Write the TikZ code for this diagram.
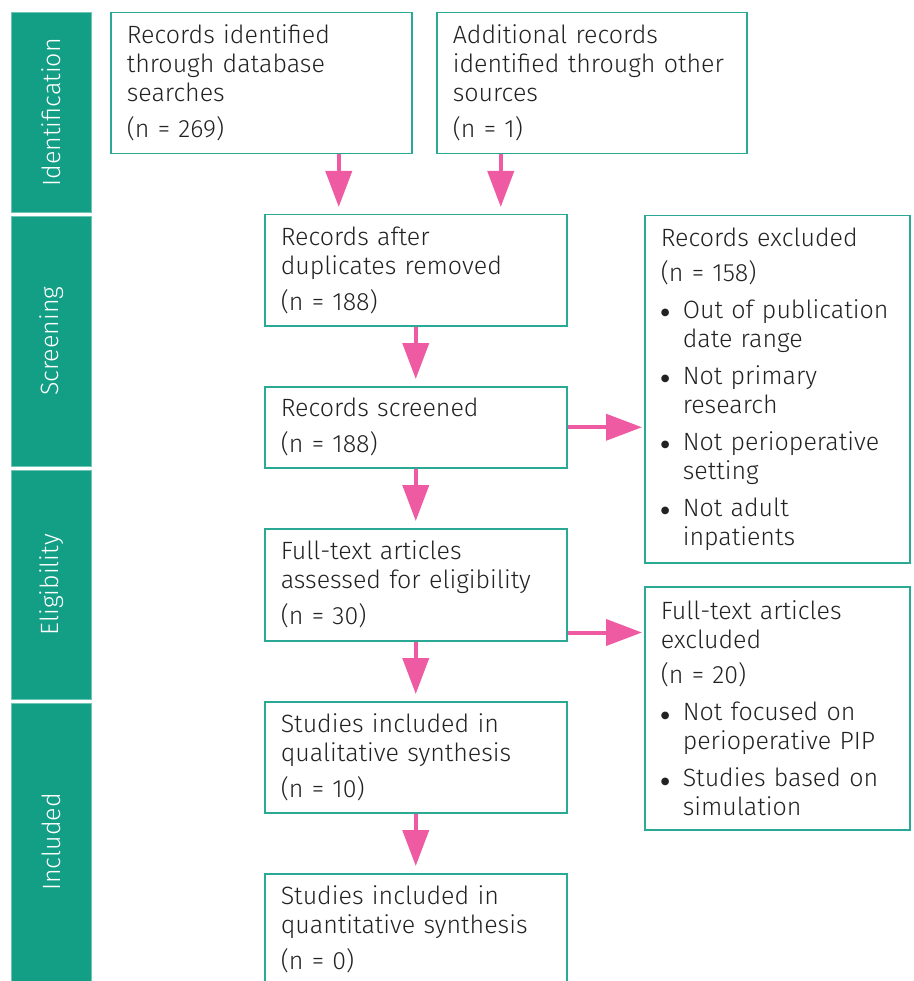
\documentclass[tikz,border=0pt]{standalone}
\usepackage{fontspec}
\setmainfont{Fira Sans Light}
\newfontfamily\dejavu{DejaVu Sans}
\usetikzlibrary{arrows.meta,positioning,calc}
\definecolor{barteal}{HTML}{129F85}
\definecolor{boxteal}{HTML}{2AAA95}
\definecolor{arrpink}{HTML}{EE5BA2}
\definecolor{txt}{HTML}{222222}
\begin{document}
\begin{tikzpicture}[x=1pt,y=-1pt,
  box/.style={draw=boxteal,line width=1.5pt,anchor=north west,inner xsep=16pt,inner ysep=0pt,
    align=left,text=txt,font=\fontsize{25}{29}\selectfont},
  bar/.style={fill=barteal,draw=barteal!60!white,line width=0.6pt,anchor=north west,minimum width=80pt,inner sep=0pt},
  barlabel/.style={text=white,rotate=90,font=\fontsize{25}{29}\selectfont},
  arr/.style={draw=arrpink,line width=4pt,-{Triangle[length=36pt,width=26pt]},shorten >=7pt}
]
\useasboundingbox (0,0) rectangle (913,981);
\begin{scope}
\clip (0,0) rectangle (913,981);
% side bars
\node[bar,minimum height=200pt] (s1) at (11,12) {};
\node[bar,minimum height=250pt] (s2) at (11,216) {};
\node[bar,minimum height=229pt] (s3) at (11,470) {};
\node[bar,minimum height=290pt] (s4) at (11,703) {};
\node[barlabel] (l1) at (s1.center) {Identification};
\node[barlabel] (l2) at (s2.center) {Screening};
\node[barlabel] (l3) at (s3.center) {Eligibility};
\node[barlabel] (l4) at (11+40,842) {Included};
% boxes
\node[box,text width=269pt,minimum height=141pt] (b1) at (110,12)
  {Records identified\\through database\\searches\\[7pt](n = 269)};
\node[box,text width=278pt,minimum height=141pt] (b2) at (436,12)
  {Additional records\\identified through other\\sources\\[7pt](n = 1)};
\node[box,text width=270pt,minimum height=111pt] (b3) at (264,214)
  {Records after\\duplicates removed\\[7pt](n = 188)};
\node[box,text width=270pt,minimum height=81pt] (b4) at (264,386)
  {Records screened\\[7pt](n = 188)};
\node[box,text width=270pt,minimum height=112pt] (b5) at (264,528)
  {Full-text articles\\assessed for eligibility\\[7pt](n = 30)};
\node[box,text width=270pt,minimum height=111pt] (b6) at (264,701)
  {Studies included in\\qualitative synthesis\\[7pt](n = 10)};
\node[box,text width=270pt,minimum height=111pt] (b7) at (264,873)
  {Studies included in\\quantitative synthesis\\[7pt](n = 0)};
\newcommand{\bul}{\makebox[22pt][l]{\raisebox{2.5pt}{\dejavu\fontsize{10}{10}\selectfont ●}}}
\newcommand{\ind}{\hspace*{22pt}}
\node[box,text width=233pt,minimum height=347pt] (e1) at (644,215)
  {Records excluded\\[6pt](n = 158)\\[8pt]
   \bul Out of publication\\\ind date range\\[8pt]
   \bul Not primary\\\ind research\\[8pt]
   \bul Not perioperative\\\ind setting\\[8pt]
   \bul Not adult\\\ind inpatients};
\node[box,text width=233pt,minimum height=243pt] (e2) at (644,586)
  {Full-text articles\\excluded\\[6pt](n = 20)\\[8pt]
   \bul Not focused on\\\ind perioperative PIP\\[8pt]
   \bul Studies based on\\\ind simulation};
% arrows
\draw[arr] ([xshift=77.5pt]b1.south) -- ([xshift=77.5pt]b1.south |- b3.north);
\draw[arr] ([xshift=-91pt]b2.south) -- ([xshift=-91pt]b2.south |- b3.north);
\draw[arr] (b3.south) -- (b4.north);
\draw[arr] (b4.south) -- (b5.north);
\draw[arr] (b5.south) -- (b6.north);
\draw[arr] (b6.south) -- (b7.north);
\draw[arr,shorten >=2pt] (b4.east) -- (b4.east -| e1.west);
\draw[arr,shorten >=2pt] ([yshift=9pt]b5.south east) -- ([yshift=9pt]b5.south east -| e2.west);
\end{scope}
\end{tikzpicture}
\end{document}
